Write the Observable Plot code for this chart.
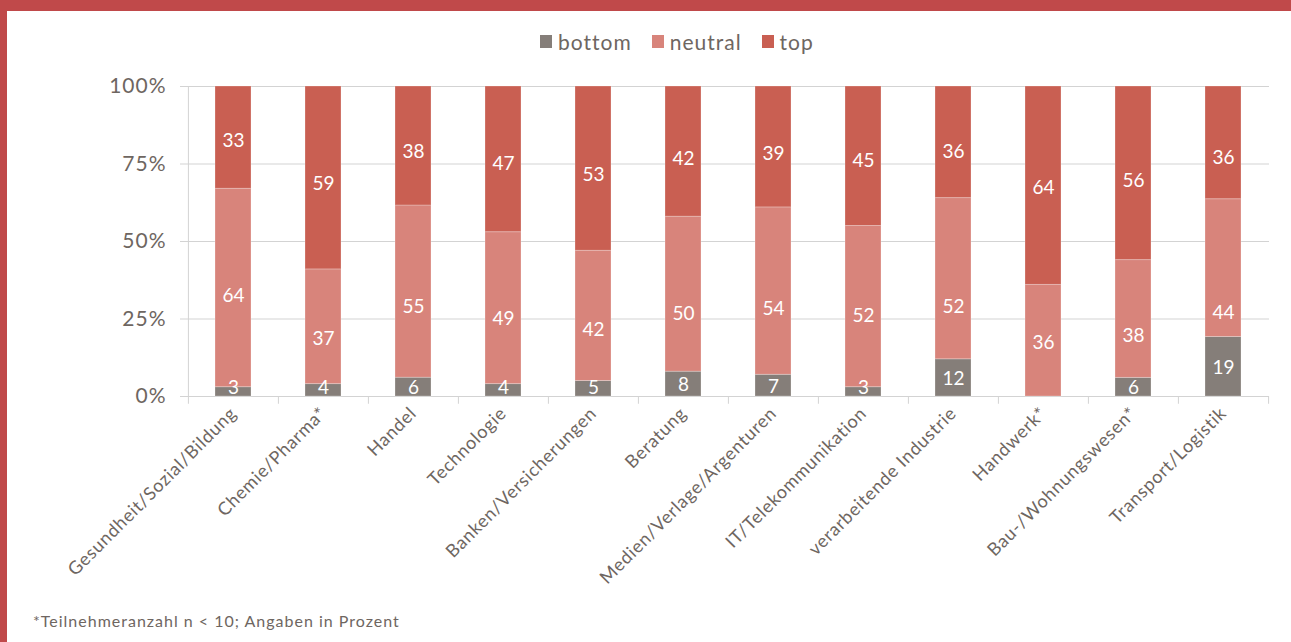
<!DOCTYPE html>
<html>
<head>
<meta charset="utf-8">
<script src="https://cdn.jsdelivr.net/npm/d3@7"></script>
<script src="https://cdn.jsdelivr.net/npm/@observablehq/plot@0.6"></script>
<style>
  html, body { margin: 0; padding: 0; background: #fff; }
  #frame {
    position: relative; width: 1284px; height: 631px;
    border-top: 11px solid #c0494a; border-left: 7px solid #c0494a;
    background: #fff; overflow: hidden;
    font-family: Lato, "Noto Sans", sans-serif; color: #6e6661;
  }
  #legend { position: absolute; left: 533px; top: 18px; display: flex; align-items: center; font-size: 21px; letter-spacing: 1px; }
  #legend .item { display: flex; align-items: center; margin-right: 20px; }
  #legend .sw { width: 12px; height: 13px; margin-right: 6px; }
  #chart { position: absolute; left: 0; top: 54px; }
  #chart g[aria-label="y-axis tick label"] text { letter-spacing: 1px; }
  #chart g[aria-label="x-axis tick label"] text { letter-spacing: 0.7px; }
  #note { position: absolute; left: 26px; top: 600px; font-size: 16px; letter-spacing: 1px; }
</style>
</head>
<body>
<div id="frame">
  <div id="legend"></div>
  <div id="chart"></div>
  <div id="note">*Teilnehmeranzahl n &lt; 10; Angaben in Prozent</div>
</div>
<script>
const categories = ["Gesundheit/Sozial/Bildung", "Chemie/Pharma*", "Handel", "Technologie", "Banken/Versicherungen", "Beratung", "Medien/Verlage/Argenturen", "IT/Telekommunikation", "verarbeitende Industrie", "Handwerk*", "Bau-/Wohnungswesen*", "Transport/Logistik"];
const groups = ["bottom", "neutral", "top"];
const bottomValues = [3, 4, 6, 4, 5, 8, 7, 3, 12, 0, 6, 19];
const neutralValues = [64, 37, 55, 49, 42, 50, 54, 52, 52, 36, 38, 44];
const topValues = [33, 59, 38, 47, 53, 42, 39, 45, 36, 64, 56, 36];
const yTicks = [0, 0.25, 0.5, 0.75, 1];
const colors = ["#857e79", "#d8847b", "#c95f52"];

const seriesValues = [bottomValues, neutralValues, topValues];
const data = [];
categories.forEach((c, i) => groups.forEach((g, j) => data.push({cat: c, group: g, value: seriesValues[j][i]})));

// bottom labels: centred in their segment, but kept off the baseline (as the original does)
const bottomLabels = categories.map((c, i) => {
  const total = bottomValues[i] + neutralValues[i] + topValues[i];
  return {cat: c, value: bottomValues[i], y: Math.max(bottomValues[i] / total / 2, 0.032)};
}).filter(d => d.value > 0);

// legend
const legend = document.getElementById("legend");
groups.forEach((g, j) => {
  const it = document.createElement("div"); it.className = "item";
  const sw = document.createElement("div"); sw.className = "sw"; sw.style.background = colors[j];
  const t = document.createElement("span"); t.textContent = g;
  it.appendChild(sw); it.appendChild(t); legend.appendChild(it);
});

const W = 1284, ml = 180, mr = 22;
const step = (W - ml - mr) / categories.length;
const stackOpts = {offset: "normalize", order: groups, x: "cat", y: "value", z: "group"};
const gridColor = "#d3d3d3";

const chart = Plot.plot({
  width: W, height: 540,
  marginLeft: ml, marginRight: mr, marginTop: 21, marginBottom: 209,
  style: {fontFamily: "Lato, 'Noto Sans', sans-serif", color: "#6e6661", background: "transparent"},
  x: {domain: categories, paddingInner: 0.6, paddingOuter: 0.3, label: null},
  y: {domain: [0, 1], label: null},
  color: {domain: groups, range: colors},
  marks: [
    Plot.gridY(yTicks, {stroke: gridColor, strokeOpacity: 1, strokeWidth: 1}),
    Plot.axisY(yTicks, {tickFormat: d => Math.round(d * 100) + "%", tickSize: 7, tickPadding: 14, stroke: gridColor, fontSize: 21, fill: "#6e6661"}),
    Plot.ruleX(categories, {x: d => d, dx: -step / 2, y1: (d, i) => i === 0 ? 1 : 0, y2: -0.025, stroke: gridColor}),
    Plot.ruleX(categories.slice(-1), {x: d => d, dx: step / 2, y1: 0, y2: -0.025, stroke: gridColor}),
    Plot.axisX({tickSize: 0, tickRotate: -45, tickPadding: 14, fontSize: 18, fill: "#6e6661"}),
    Plot.barY(data, Plot.stackY({...stackOpts, fill: "group", stroke: "#fff", strokeOpacity: 0.25, strokeWidth: 1})),
    Plot.text(data.filter(d => d.group !== "bottom"), Plot.stackY({...stackOpts, text: d => String(d.value), fill: "#fff", fontSize: 19, dy: 2})),
    Plot.text(bottomLabels, {x: "cat", y: "y", text: d => String(d.value), fill: "#fff", fontSize: 19, dy: 1})
  ]
});
document.getElementById("chart").appendChild(chart);
</script>
</body>
</html>
